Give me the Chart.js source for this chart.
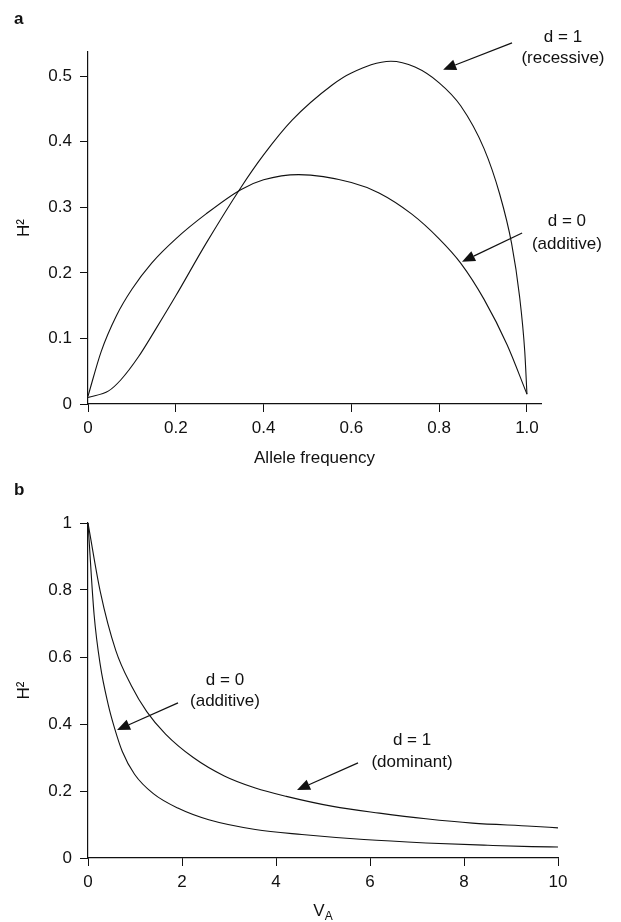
<!DOCTYPE html>
<html>
<head>
<meta charset="utf-8">
<script src="https://cdn.jsdelivr.net/npm/chart.js@4.4.0/dist/chart.umd.min.js"></script>
<style>
  html, body { margin: 0; padding: 0; background: #fff; }
  #chartA { position: absolute; left: 0; top: 0; }
  #chartB { position: absolute; left: 0; top: 480px; }
</style>
</head>
<body>
<canvas id="chartA" width="621" height="480"></canvas>
<canvas id="chartB" width="621" height="442"></canvas>
<script>
// panel a: H2 against allele frequency
const freqAdditive = [0, 0.03, 0.065, 0.1, 0.145, 0.2, 0.269, 0.348, 0.4, 0.48, 0.6, 0.663, 0.737, 0.8, 0.849, 0.902, 0.955, 1.0];
const h2Additive   = [0.012, 0.08, 0.135, 0.175, 0.215, 0.252, 0.29, 0.327, 0.342, 0.350, 0.338, 0.322, 0.29, 0.252, 0.215, 0.16, 0.09, 0.015];
const freqRecessive = [0, 0.047, 0.075, 0.115, 0.155, 0.2, 0.269, 0.348, 0.4, 0.465, 0.557, 0.6, 0.69, 0.745, 0.8, 0.849, 0.902, 0.938, 0.965, 0.983, 0.995, 1.0];
const h2Recessive   = [0.010, 0.02, 0.037, 0.072, 0.115, 0.165, 0.245, 0.330, 0.38, 0.433, 0.487, 0.505, 0.523, 0.514, 0.49, 0.455, 0.39, 0.32, 0.245, 0.165, 0.08, 0.015];

// panel b: H2 against V_A
const vaDominant = [0, 0.26, 0.59, 0.92, 1.25, 1.65, 2.24, 2.9, 3.56, 4.22, 5.21, 6.2, 7.19, 8.18, 9.44, 10];
const h2Dominant = [1.0, 0.796, 0.62, 0.515, 0.437, 0.37, 0.3, 0.245, 0.209, 0.184, 0.154, 0.134, 0.117, 0.104, 0.095, 0.09];
const vaAdd = [0, 0.13, 0.26, 0.43, 0.56, 0.73, 0.99, 1.39, 1.91, 2.57, 3.56, 4.55, 5.87, 7.19, 8.51, 9.44, 10];
const h2Add = [1.0, 0.726, 0.577, 0.458, 0.39, 0.318, 0.25, 0.192, 0.149, 0.114, 0.085, 0.07, 0.055, 0.045, 0.038, 0.034, 0.033];

// tick labels
const xTicksA = [0, 0.2, 0.4, 0.6, 0.8, 1.0];
const xLabelsA = ["0", "0.2", "0.4", "0.6", "0.8", "1.0"];
const yTicksA = [0, 0.1, 0.2, 0.3, 0.4, 0.5];
const yLabelsA = ["0", "0.1", "0.2", "0.3", "0.4", "0.5"];
const xTicksB = [0, 2, 4, 6, 8, 10];
const xLabelsB = ["0", "2", "4", "6", "8", "10"];
const yTicksB = [0, 0.2, 0.4, 0.6, 0.8, 1];
const yLabelsB = ["0", "0.2", "0.4", "0.6", "0.8", "1"];

const FONT = "'Liberation Sans', Arial, Helvetica, sans-serif";
const INK = "#111";
Chart.defaults.font.family = FONT;
Chart.defaults.color = INK;

function pts(xs, ys) {
    return xs.map((x, i) => ({ x, y: ys[i] }));
}

function labelFor(values, labels) {
    return (v) => {
        const i = values.findIndex(t => Math.abs(t - v) < 1e-6);
        return i >= 0 ? labels[i] : "";
    };
}

function curve(data) {
    return {
        data,
        borderColor: INK,
        borderWidth: 1.1,
        pointRadius: 0,
        fill: false,
        cubicInterpolationMode: "monotone"
    };
}

function axis(min, max, step, values, labels, title, fitSize, horizontal) {
    return {
        type: "linear",
        min, max,
        grid: { drawOnChartArea: false, drawTicks: true, tickLength: 8, color: INK, lineWidth: 1 },
        border: { display: true, color: INK, width: 1.2 },
        ticks: {
            stepSize: step,
            includeBounds: false,
            autoSkip: false,
            maxRotation: 0,
            padding: horizontal ? 6 : 8,
            color: INK,
            font: { size: 17 },
            callback: labelFor(values, labels)
        },
        title: title ? {
            display: true,
            text: title,
            color: INK,
            font: { size: 17 },
            padding: horizontal ? { top: 0, bottom: 11 } : { top: 14, bottom: 0 }
        } : { display: false },
        afterFit(scale) {
            if (horizontal) scale.height = fitSize; else scale.width = fitSize;
        }
    };
}

// arrows + labels, placed in data units
const notesA = [
    { lines: ["d = 1", "(recessive)"], x: 1.082, y: [0.56, 0.528], tail: [0.966, 0.551], tip: [0.809, 0.510] },
    { lines: ["d = 0", "(additive)"], x: 1.091, y: [0.278, 0.243], tail: [0.989, 0.261], tip: [0.852, 0.217] }
];
const notesB = [
    { lines: ["d = 0", "(additive)"], x: 2.915, y: [0.531, 0.469], tail: [1.915, 0.463], tip: [0.617, 0.382] },
    { lines: ["d = 1", "(dominant)"], x: 6.894, y: [0.352, 0.287], tail: [5.745, 0.284], tip: [4.447, 0.203] }
];

const notesPlugin = {
    id: "notes",
    afterDraw(chart, args, opts) {
        const { ctx, scales: { x, y } } = chart;
        ctx.save();
        ctx.fillStyle = INK;
        ctx.strokeStyle = INK;
        ctx.font = `17px ${FONT}`;
        ctx.textAlign = "center";
        ctx.textBaseline = "middle";
        for (const n of opts.notes) {
            const px = x.getPixelForValue(n.x);
            n.lines.forEach((t, i) => ctx.fillText(t, px, y.getPixelForValue(n.y[i])));

            const tx = x.getPixelForValue(n.tail[0]), ty = y.getPixelForValue(n.tail[1]);
            const hx = x.getPixelForValue(n.tip[0]), hy = y.getPixelForValue(n.tip[1]);
            const ang = Math.atan2(hy - ty, hx - tx);
            const len = 13, half = 5.5;
            const bx = hx - len * Math.cos(ang), by = hy - len * Math.sin(ang);
            ctx.lineWidth = 1.2;
            ctx.beginPath();
            ctx.moveTo(tx, ty);
            ctx.lineTo(bx, by);
            ctx.stroke();
            ctx.beginPath();
            ctx.moveTo(hx, hy);
            ctx.lineTo(bx + half * Math.sin(ang), by - half * Math.cos(ang));
            ctx.lineTo(bx - half * Math.sin(ang), by + half * Math.cos(ang));
            ctx.closePath();
            ctx.fill();
        }
        // panel letter
        ctx.font = `bold 17px ${FONT}`;
        ctx.textAlign = "left";
        ctx.textBaseline = "alphabetic";
        ctx.fillText(opts.letter, 14, opts.letterY);

        // V with subscript A (panel b only)
        if (opts.subTitle) {
            const cx = (chart.chartArea.left + chart.chartArea.right) / 2;
            ctx.font = `17px ${FONT}`;
            const w = ctx.measureText("V").width;
            ctx.fillText("V", cx - w / 2 - 4, opts.subTitle);
            ctx.font = `12px ${FONT}`;
            ctx.fillText("A", cx + w / 2 - 4, opts.subTitle + 4);
        }
        ctx.restore();
    }
};

new Chart(document.getElementById("chartA"), {
    type: "line",
    data: { datasets: [curve(pts(freqAdditive, h2Additive)), curve(pts(freqRecessive, h2Recessive))] },
    options: {
        responsive: false,
        animation: false,
        layout: { padding: { top: 52, right: 80, left: 0, bottom: 0 } },
        plugins: {
            legend: { display: false },
            tooltip: { enabled: false },
            notes: { notes: notesA, letter: "a", letterY: 24 }
        },
        scales: {
            x: axis(0, 1.032, 0.2, xTicksA, xLabelsA, "Allele frequency", 76, true),
            y: axis(0, 0.537, 0.1, yTicksA, yLabelsA, "H²", 88, false)
        }
    },
    plugins: [notesPlugin]
});

new Chart(document.getElementById("chartB"), {
    type: "line",
    data: { datasets: [curve(pts(vaDominant, h2Dominant)), curve(pts(vaAdd, h2Add))] },
    options: {
        responsive: false,
        animation: false,
        layout: { padding: { top: 43, right: 63, left: 0, bottom: 0 } },
        plugins: {
            legend: { display: false },
            tooltip: { enabled: false },
            notes: { notes: notesB, letter: "b", letterY: 15, subTitle: 436 }
        },
        scales: {
            x: axis(0, 10, 2, xTicksB, xLabelsB, null, 64, true),
            y: axis(0, 1, 0.2, yTicksB, yLabelsB, "H²", 88, false)
        }
    },
    plugins: [notesPlugin]
});
</script>
</body>
</html>
